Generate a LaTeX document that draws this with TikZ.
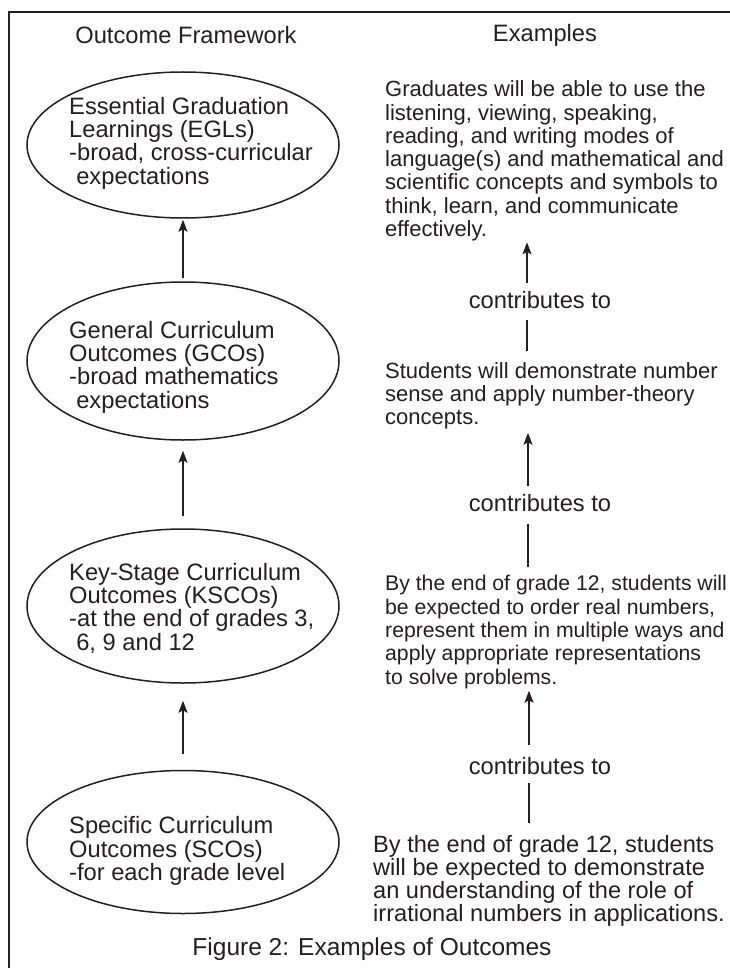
\documentclass[tikz,border=0pt]{standalone}
\usepackage{fontspec}
\setmainfont{Liberation Sans}
\usetikzlibrary{shapes.geometric,arrows.meta}
\definecolor{ink}{HTML}{231F20}

\tikzset{
  outcome/.style={ellipse,draw=ink,line width=1.5pt,minimum width=312pt,inner sep=0pt},
  outtext/.style={align=left,anchor=west,inner sep=0pt,text=ink,font=\fontsize{23.7}{23.3}\selectfont},
  example/.style={align=left,anchor=west,inner sep=0pt,text=ink},
  contrib/.style={inner sep=0pt,text=ink,font=\fontsize{23.7}{23.3}\selectfont},
  arr/.style={draw=ink,line width=1.5pt,-{Stealth[length=12pt,width=9pt,inset=2.5pt]}},
  link/.style={draw=ink,line width=1.5pt},
}

\begin{document}
\begin{tikzpicture}[x=1pt,y=-1pt]
\useasboundingbox (0,0) rectangle (730,968);
\draw[ink,line width=2pt] (9,968)--(9,12)--(730,12);

\node[contrib] (hfw) at (186,35) {Outcome Framework};
\node[contrib] (hex) at (545,35) {Examples};

% outcome framework
\node[outcome,minimum height=146pt] (egl) at (183,145) {};
\node[outcome,minimum height=158pt] (gco) at (183,361) {};
\node[outcome,minimum height=154pt] (kco) at (183,606) {};
\node[outcome,minimum height=143pt] (sco) at (183,842) {};
\node[outtext] (egltxt) at (69,143) {Essential Graduation\\Learnings (EGLs)\\-broad, cross-curricular\\\hspace*{0.3em}expectations};
\node[outtext] (gcotxt) at (69,367) {General Curriculum\\Outcomes (GCOs)\\-broad mathematics\\\hspace*{0.3em}expectations};
\node[outtext] (kcotxt) at (69,608) {Key-Stage Curriculum\\Outcomes (KSCOs)\\-at the end of grades 3,\\\hspace*{0.3em}6, 9 and 12};
\node[outtext] (scotxt) at (69,851) {Specific Curriculum\\Outcomes (SCOs)\\-for each grade level};

\draw[arr,shorten <=3pt,shorten >=1pt] (gco)--(egl);
\draw[arr,shorten <=12pt,shorten >=10pt] (kco)--(gco);
\draw[arr,shorten <=16pt,shorten >=17pt] (sco)--(kco);

% examples
\node[example,font=\fontsize{22}{23.3}\selectfont] (ex1) at (385,161) {Graduates will be able to use the\\listening, viewing, speaking,\\reading, and writing modes of\\language(s) and mathematical and\\scientific concepts and symbols to\\think, learn, and communicate\\effectively.};
\node[example,font=\fontsize{22}{23.3}\selectfont] (ex2) at (385,396) {Students will demonstrate number\\sense and apply number-theory\\concepts.};
\node[example,font=\fontsize{21.2}{23.3}\selectfont] (ex3) at (385,632) {By the end of grade 12, students will\\be expected to order real numbers,\\represent them in multiple ways and\\apply appropriate representations\\to solve problems.};
\node[example,font=\fontsize{23.6}{23}\selectfont] (ex4) at (373,881) {By the end of grade 12, students\\will be expected to demonstrate\\an understanding of the role of\\irrational numbers in applications.};

\node[contrib] (c1) at (540,300) {contributes to};
\node[contrib] (c2) at (540,503) {contributes to};
\node[contrib] (c3) at (540,766) {contributes to};

\draw[arr,shorten <=8pt,shorten >=1pt] ([xshift=-13pt]c1.north)--([xshift=-13pt]c1.north|-ex1.south);
\draw[link,shorten <=11pt,shorten >=11pt] ([xshift=-13pt]c1.south)--([xshift=-13pt]c1.south|-ex2.north);
\draw[arr,shorten <=8pt,shorten >=3pt] ([xshift=-12pt]c2.north)--([xshift=-12pt]c2.north|-ex2.south);
\draw[link,shorten <=12pt,shorten >=8pt] ([xshift=-12pt]c2.south)--([xshift=-12pt]c2.south|-ex3.north);
\draw[arr,shorten <=12pt,shorten >=2pt] ([xshift=-11pt]c3.north)--([xshift=-11pt]c3.north|-ex3.south);
\draw[link,shorten <=8pt,shorten >=12pt] ([xshift=-11pt]c3.south)--([xshift=-11pt]c3.south|-ex4.north);

\node[contrib,font=\fontsize{24.5}{24}\selectfont] (cap) at (372,949) {Figure 2: Examples of Outcomes};
\end{tikzpicture}
\end{document}
